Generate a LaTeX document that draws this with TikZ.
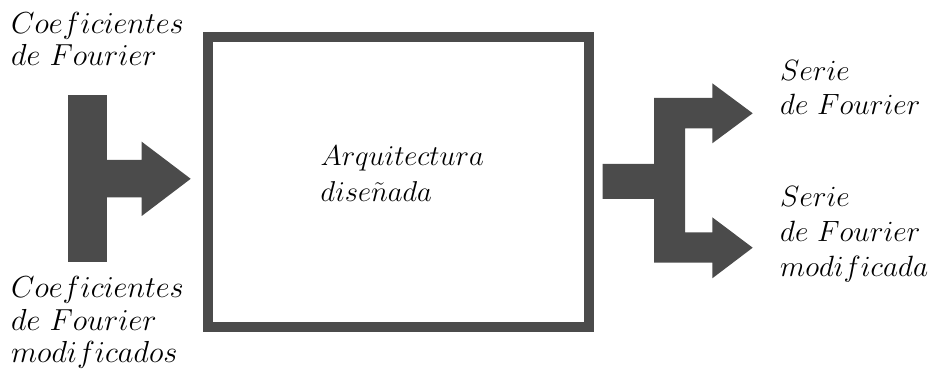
\documentclass[tikz,border=0pt]{standalone}
\usepackage{fix-cm}
\usepackage{array}
\definecolor{blockgray}{HTML}{4B4B4B}
\tikzset{
  blockfill/.style={fill=blockgray, draw=none},
  archbox/.style={draw=blockgray, line width=10pt, fill=none, inner sep=0pt,
    minimum width=380.7pt, minimum height=290.6pt},
  lbl/.style={inner sep=0pt, anchor=base west},
  lblsize/.style 2 args={font=\fontsize{#1}{#2}\selectfont},
}
\newcommand{\lines}[1]{\begin{tabular}[t]{@{}l@{}}#1\end{tabular}}
\begin{document}
\begin{tikzpicture}[x=1pt, y=-1pt]
  \useasboundingbox (0,0) rectangle (932,379);

  % central block
  \node[archbox] (arq) at (398.65,182) {};
  \node[lbl, lblsize={28.7}{35.7}] (arqtxt) at (320.5,166)
    {\lines{$Arquitectura$\\ $dise\tilde{n}ada$}};

  % input: T-shaped block arrow
  \coordinate (inTop) at (68,95);
  \coordinate (inBot) at (106.5,262.3);
  \fill[blockfill] (inTop) rectangle (inBot);
  \coordinate (inTip) at (190.7,178.8);
  \fill[blockfill] (106,160) -- (141.7,160) -- (141.7,141.7) -- (inTip)
    -- (141.7,216) -- (141.7,197.5) -- (106,197.5) -- cycle;

  % output: forked block arrow
  \coordinate (outTipA) at (752.7,113.3);
  \coordinate (outTipB) at (752.7,247.7);
  \fill[blockfill] (602.7,164) -- (654,164) -- (654,98) -- (712.3,98)
    -- (712.3,83.3) -- (outTipA) -- (712.3,143.3) -- (712.3,128.3)
    -- (685,128.3) -- (685,232.3) -- (712.3,232.3) -- (712.3,217.3)
    -- (outTipB) -- (712.3,278.3) -- (712.3,262.7) -- (654,262.7)
    -- (654,199) -- (602.7,199) -- cycle;

  % labels
  \node[lbl, lblsize={30.4}{32.3}] (coef) at (11,33.5)
    {\lines{$Coeficientes$\\ $de\ Fourier$}};
  \node[lbl, lblsize={30.4}{32.3}] (coefmod) at (11,298)
    {\lines{$Coeficientes$\\ $de\ Fourier$\\ $modificados$}};
  \node[lbl, lblsize={29.3}{34.3}] (serie) at (780,80.7)
    {\lines{$Serie$\\ $de\ Fourier$}};
  \node[lbl, lblsize={29.3}{34.9}] (seriemod) at (780,207)
    {\lines{$Serie$\\ $de\ Fourier$\\ $modificada$}};
\end{tikzpicture}
\end{document}
